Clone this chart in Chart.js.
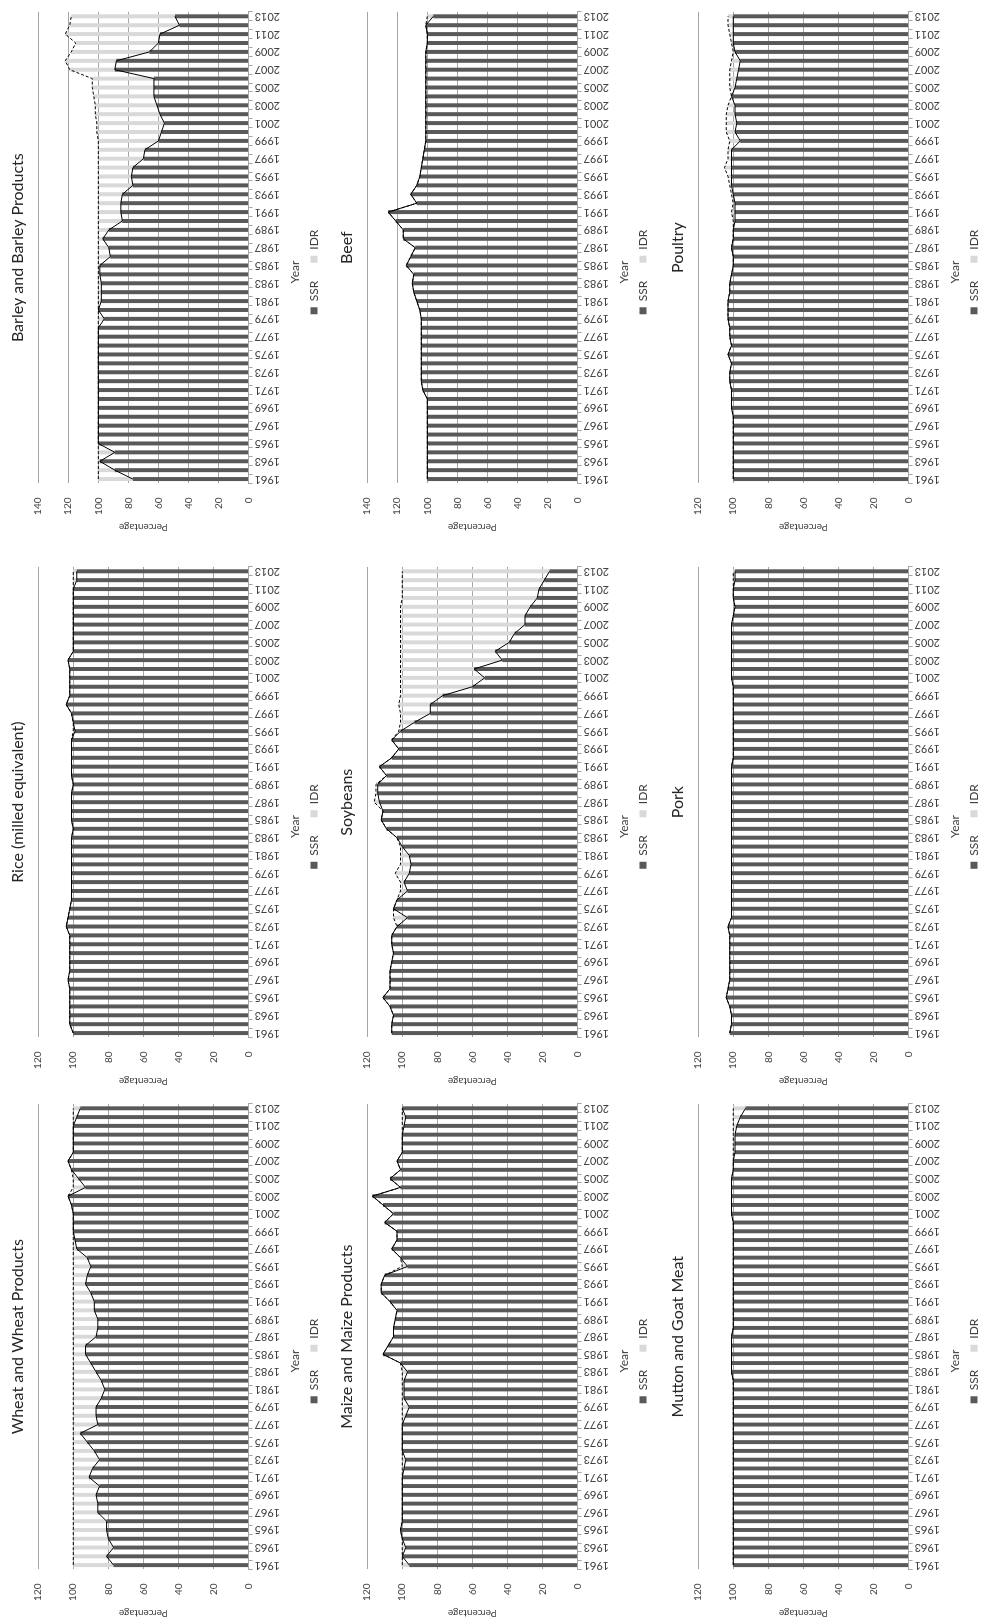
<!DOCTYPE html>
<html>
<head>
<meta charset="utf-8">
<script src="https://cdn.jsdelivr.net/npm/chart.js@4/dist/chart.umd.min.js"></script>
<style>
  html, body { margin: 0; padding: 0; background: #fff; overflow: hidden; width: 981px; height: 1623px; }
  /* the sheet is laid out in landscape and turned a quarter turn counter-clockwise */
  #sheet { position: absolute; left: 0; top: 0; width: 1623px; height: 981px; overflow: hidden;
           background: #fff; transform-origin: 0 0; transform: translate(0, 1623px) rotate(-90deg); }
  #sheet canvas { position: absolute; }
</style>
</head>
<body>
<div id="sheet"></div>
<script>
// Years on the category axis
const years = ['1961','1962','1963','1964','1965','1966','1967','1968','1969','1970',
  '1971','1972','1973','1974','1975','1976','1977','1978','1979','1980',
  '1981','1982','1983','1984','1985','1986','1987','1988','1989','1990',
  '1991','1992','1993','1994','1995','1996','1997','1998','1999','2000',
  '2001','2002','2003','2004','2005','2006','2007','2008','2009','2010',
  '2011','2012','2013'];

// Self-sufficiency ratio (SSR) and import dependency ratio (IDR), percent
const wheatSSR = [77,81,77,80,81,81,86,86,87,85, 91,89,85,88,92,96,86,87,87,84, 82,84,87,90,93,93,87,86,86,88, 88,90,93,92,90,92,98,99,100,100, 100,101,103,93,97,101,103,100,100,100, 100,98,96];
const wheatIDR = [23,19,23,20,19,19,14,14,13,15, 9,11,15,12,8,4,14,13,13,16, 18,16,13,10,7,7,13,14,14,12, 12,10,7,8,10,8,2,1,0,0, 0,0,0,7,3,0,0,0,0,0, 0,2,4];

const riceSSR = [100,102,102,102,102,102,103,102,102,102, 102,102,104,103,102,101,101,101,101,101, 101,101,101,100,101,101,101,101,100,101, 101,101,101,101,99,100,101,104,102,102, 102,102,103,100,100,100,100,100,100,100, 100,98,98];
const riceIDR = [0,0,0,0,0,0,0,0,0,0, 0,0,0,0,0,0,0,0,0,0, 0,0,0,0,0,0,0,0,0,0, 0,0,0,0,1,0,0,0,0,0, 0,0,0,0,0,0,0,0,0,0, 0,2,2];

const barleySSR = [77,89,99,89,100,100,100,100,100,100, 100,100,100,100,100,100,100,100,96,100, 98,98,98,99,99,92,93,97,93,84, 85,85,84,77,78,77,70,69,60,58, 56,59,61,63,63,63,89,88,66,60, 59,46,49];
const barleyIDR = [23,11,1,11,0,0,0,0,0,0, 0,0,0,0,0,0,0,0,4,0, 2,2,2,1,1,8,7,3,7,16, 15,15,16,23,22,23,30,31,40,43, 45,43,41,40,41,41,30,34,52,55, 63,73,69];

const maizeSSR = [96,100,98,100,101,100,100,100,100,100, 100,99,98,100,100,100,100,98,96,99, 99,99,97,101,111,108,105,105,104,103, 107,112,112,110,97,101,106,103,103,110, 105,111,117,101,107,101,103,100,100,100, 99,98,100];
const maizeIDR = [4,0,2,0,0,0,0,0,0,0, 0,1,2,0,0,0,0,2,4,1, 1,1,3,0,0,0,0,0,0,0, 0,0,0,0,3,0,0,0,0,0, 0,0,0,0,0,0,0,0,0,0, 1,2,0];

const soySSR = [106,106,105,107,111,107,107,107,106,105, 106,106,103,97,105,103,97,99,96,95, 96,100,103,109,112,111,113,114,114,109, 113,106,102,106,101,93,84,84,77,60, 53,59,43,47,39,36,30,30,27,23, 22,19,16];
const soyIDR = [0,0,0,0,0,0,0,0,0,0, 0,0,0,8,0,0,4,2,8,6, 5,1,0,0,0,0,3,1,1,0, 0,0,0,0,1,8,17,18,24,41, 48,42,58,54,62,65,71,71,74,77, 78,81,84];

const beefSSR = [100,100,100,100,100,100,100,100,100,100, 103,104,104,104,104,104,104,104,104,105, 107,109,110,109,114,111,108,116,116,121, 126,107,111,107,105,104,103,102,101,101, 101,101,101,101,101,101,101,101,101,100, 100,101,96];
const beefIDR = [0,0,0,0,0,0,0,0,0,0, 0,0,0,0,0,0,0,0,0,0, 0,0,0,0,0,0,0,0,0,0, 0,0,0,0,0,0,0,0,0,0, 0,0,0,0,0,0,0,0,0,0, 0,0,4];

const muttonSSR = [100,100,100,100,100,100,100,100,100,100, 100,100,100,100,100,100,100,100,100,100, 100,100,101,101,101,101,101,100,100,100, 100,100,100,100,100,100,100,100,100,100, 101,101,101,101,101,100,100,99,99,99, 98,96,93];
const muttonIDR = [0,0,0,0,0,0,0,0,0,0, 0,0,0,0,0,0,0,0,0,0, 0,0,0,0,0,0,0,0,0,0, 0,0,0,0,0,0,0,0,0,0, 0,0,0,0,0,0,0,1,1,1, 2,4,7];

const porkSSR = [102,101,101,102,104,103,102,102,102,102, 102,102,103,101,101,101,101,101,101,101, 101,101,101,101,101,101,101,101,101,101, 101,100,100,100,100,100,100,100,100,100, 101,101,101,101,101,101,101,100,99,100, 100,99,99];
const porkIDR = [0,0,0,0,0,0,0,0,0,0, 0,0,0,0,0,0,0,0,0,0, 0,0,0,0,0,0,0,0,0,0, 0,0,0,0,0,0,0,0,0,0, 0,0,0,0,0,0,0,0,0,0, 0,1,1];

const poultrySSR = [100,100,100,100,100,100,100,100,101,101, 101,102,102,101,103,101,102,102,103,103, 103,102,102,101,100,100,101,100,100,99, 99,99,100,101,101,101,101,101,96,99, 98,99,99,101,99,98,97,96,99,100, 100,100,100];
const poultryIDR = [0,0,0,0,0,0,0,0,0,0, 0,0,0,0,0,0,0,0,0,0, 0,0,0,0,0,0,0,0,0,1, 2,1,1,1,2,4,2,2,6,5, 6,5,4,0,3,4,5,5,1,1, 2,3,3];

// Panel titles and value-axis ceilings
const titles = ['Wheat and Wheat Products','Rice (milled equivalent)','Barley and Barley Products',
                'Maize and Maize Products','Soybeans','Beef',
                'Mutton and Goat Meat','Pork','Poultry'];
const ssrSeries = [wheatSSR, riceSSR, barleySSR, maizeSSR, soySSR, beefSSR, muttonSSR, porkSSR, poultrySSR];
const idrSeries = [wheatIDR, riceIDR, barleyIDR, maizeIDR, soyIDR, beefIDR, muttonIDR, porkIDR, poultryIDR];
const axisMax = [120,120,140, 120,120,140, 120,120,120];

// Grid placement on the landscape sheet
const colX = [0, 532, 1086];
const rowY = [0, 329, 660];
const plotW = [470, 475, 476];
const PLOT_LEFT = 53.5;
const H = 330;

const GRID = '#a6a6a6';
const INK = '#404040';
Chart.defaults.font.family = 'Lato, "Open Sans", "DejaVu Sans", sans-serif';
Chart.defaults.color = INK;

const sheet = document.getElementById('sheet');

function panel(i) {
  const col = i % 3, row = Math.floor(i / 3);
  const ssr = ssrSeries[i], idr = idrSeries[i];
  const total = ssr.map((v, k) => v + idr[k]);
  const W = Math.round(PLOT_LEFT + plotW[col] + 6);

  const cv = document.createElement('canvas');
  cv.width = W; cv.height = H;
  cv.style.width = W + 'px'; cv.style.height = H + 'px';
  cv.style.left = colX[col] + 'px'; cv.style.top = rowY[row] + 'px';
  sheet.appendChild(cv);

  new Chart(cv, {
    type: 'bar',
    data: {
      labels: years,
      datasets: [
        { type: 'bar', label: 'SSR', data: ssr, backgroundColor: '#595959', stack: 'bars', order: 1,
          categoryPercentage: 1, barPercentage: 0.45 },
        { type: 'bar', label: 'IDR', data: idr, backgroundColor: '#d9d9d9', stack: 'bars', order: 1,
          categoryPercentage: 1, barPercentage: 0.45 },
        { type: 'line', label: 'SSR trend', data: ssr, borderColor: '#000', borderWidth: 1,
          pointRadius: 0, tension: 0, fill: false, stack: 'ssrLine', order: 0 },
        { type: 'line', label: 'SSR+IDR', data: total, borderColor: '#000', borderWidth: 1,
          borderDash: [3, 2], pointRadius: 0, tension: 0, fill: false, stack: 'totLine', order: 0 }
      ]
    },
    options: {
      responsive: false,
      animation: false,
      devicePixelRatio: 1,
      layout: { padding: { left: 0, right: 6, top: 0, bottom: 0 } },
      plugins: {
        title: { display: true, text: titles[i], fullSize: false, color: '#262626',
                 font: { size: 16, weight: 'normal' }, padding: { top: 8, bottom: 11 } },
        legend: {
          position: 'bottom',
          title: { display: true, text: 'Year', color: INK, font: { size: 12 }, padding: { top: 5, bottom: -14 } },
          labels: { boxWidth: 7, boxHeight: 7, padding: 18, color: INK, font: { size: 12 },
                    filter: item => item.datasetIndex < 2 }
        },
        tooltip: { enabled: false }
      },
      scales: {
        x: {
          stacked: true,
          grid: { offset: true, drawOnChartArea: false, drawTicks: true, tickLength: 4, color: GRID },
          border: { color: GRID },
          ticks: {
            autoSkip: false, minRotation: 90, maxRotation: 90, padding: 2, font: { size: 11 },
            callback(value, index) { return index % 2 === 0 ? this.getLabelForValue(value) : ''; }
          },
          afterFit(scale) { scale.height = 36; }
        },
        y: {
          stacked: true, min: 0, max: axisMax[i],
          ticks: { stepSize: 20, padding: 14, font: { size: 10 } },
          grid: { color: GRID, drawTicks: false },
          border: { display: false },
          title: { display: true, text: 'Percentage', font: { size: 10 }, padding: { top: 4, bottom: 0 } },
          afterFit(scale) { scale.width = PLOT_LEFT; }
        }
      }
    }
  });
}

for (let i = 0; i < 9; i++) panel(i);
</script>
</body>
</html>
